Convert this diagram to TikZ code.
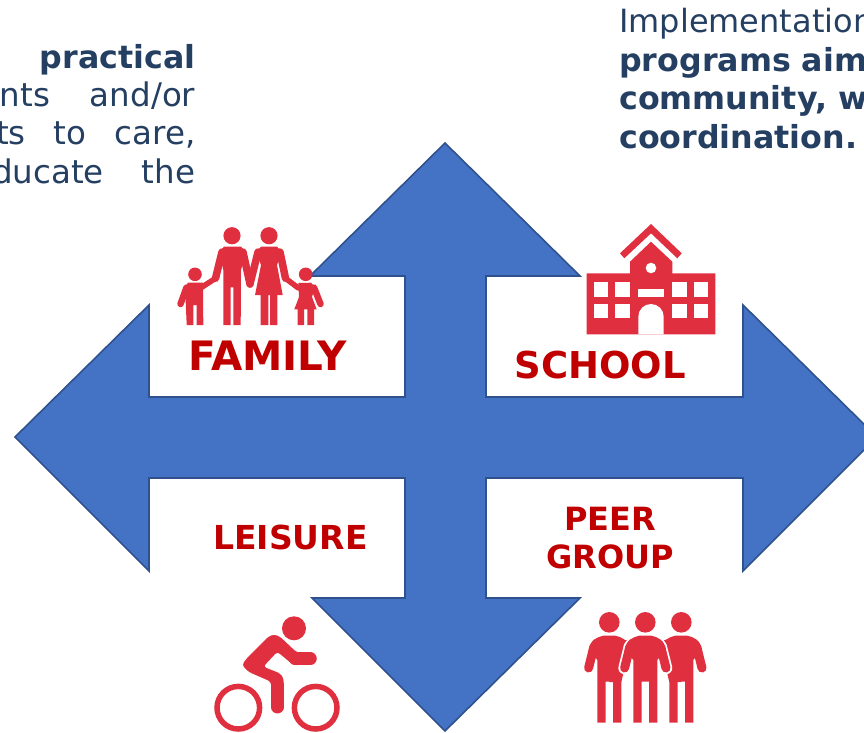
\documentclass[tikz,border=0pt]{standalone}
\usepackage{fontspec}
\setmainfont{DejaVu Sans}
\definecolor{txtblue}{HTML}{243F61}
\definecolor{arrowfill}{HTML}{4472C4}
\definecolor{arrowline}{HTML}{2F528F}
\definecolor{iconred}{HTML}{E03040}
\definecolor{labelred}{HTML}{C00000}
\newcommand\PersonShape[1]{%
  \path[#1,line join=miter] (-20,650) .. controls (-20,640) and (-12,637) .. (-6,635.7) -- (6,635.7) .. controls (12,637) and (20,640) .. (20,650) -- (12,660) -- (12,722.7) -- (3.7,722.7) -- (3.7,681.7) -- (-3.7,681.7) -- (-3.7,722.7) -- (-12,722.7) -- (-12,660) -- cycle;
}
\tikzset{
  x=1pt,y=-1pt,
  para/.style={anchor=base east,inner sep=0pt,text=txtblue,font=\fontsize{32.5}{38}\selectfont},
  parab/.style={anchor=base east,inner sep=0pt,text=txtblue,font=\bfseries\fontsize{31.7}{38}\selectfont},
  parar/.style={anchor=base west,inner sep=0pt,text=txtblue,font=\fontsize{32}{38}\selectfont},
  parabr/.style={anchor=base west,inner sep=0pt,text=txtblue,font=\bfseries\fontsize{31.7}{38}\selectfont},
  lab/.style={text=labelred,inner sep=0pt,anchor=base,font=\bfseries\fontsize{#1}{#1}\selectfont},
  cross/.style={fill=arrowfill,draw=arrowline,line width=1.6pt,line join=miter},
  icon/.style={fill=iconred},
  limb/.style={draw=iconred,line cap=round,line join=round,line width=#1},
  hole/.style={fill=white}
}
\begin{document}
\begin{tikzpicture}
\useasboundingbox (0,0) rectangle (864,732);
\clip (0,0) rectangle (864,732);
% four-headed arrow
\draw[cross] (445,143) -- (580,276) -- (486,276) -- (486,397) -- (743,397) -- (743,305) -- (877,437) -- (743,571) -- (743,478) -- (486,478) -- (486,598) -- (580,598) -- (445,731) -- (312,598) -- (405,598) -- (405,478) -- (149,478) -- (149,571) -- (15,437) -- (149,305) -- (149,397) -- (405,397) -- (405,276) -- (310,276) -- cycle;
% left text
\node[parab] (l1) at (195.5,68) {practical};
\node[para] (l2) at (195.5,106) {nts\hspace{40pt}and/or};
\node[para] (l3) at (195.5,144.5) {ts\hspace{28pt}to\hspace{28pt}care,};
\node[para] (l4) at (195.5,183) {ducate\hspace{38pt}the};
% right text
\node[parar] (r1) at (619,32) {Implementation};
\node[parabr] (r2) at (619,71) {programs aim};
\node[parabr] (r3) at (619,109) {community, w};
\node[parabr] (r4) at (619,148) {coordination.};
% labels
\node[lab=40.5] (family) at (267.5,370) {FAMILY};
\node[lab=37] (school) at (600,378) {SCHOOL};
\node[lab=33] (leisure) at (290.5,549) {LEISURE};
\node[lab=32] (peer) at (610,530) {PEER};
\node[lab=32] (group) at (610,568) {GROUP};
% family icon
\fill[icon] (232,235.7) circle (8.6) (269,235.7) circle (8.6) (195,274.3) circle (6.8) (305.7,274.3) circle (6.8);
\fill[icon] (219,252) -- (224,246.7) -- (241,246.7) -- (246,252) -- (241,270) -- (240.7,325) -- (233.3,325) -- (233.3,287.3) -- (230.7,287.3) -- (230.7,325) -- (223.3,325) -- (223.3,270) -- cycle;
\draw[limb=7.5pt] (243,252) -- (250,284);
\draw[limb=7.5pt] (222,252) -- (215.5,278.3);
\draw[limb=5.5pt] (215.5,278.3) -- (201.7,287.3);
\fill[icon] (256,252) -- (261,246.7) -- (277,246.7) -- (282,252) -- (277,265) -- (282.7,295) -- (277.3,295) -- (277.3,325) -- (270,325) -- (270,295) -- (268.3,295) -- (268.3,325) -- (260.7,325) -- (260.7,295) -- (255,295) -- (261,265) -- cycle;
\draw[limb=7.5pt] (258,252) -- (250,284);
\draw[limb=7.5pt] (280,252) -- (285.5,278.3);
\draw[limb=5.5pt] (285.5,278.3) -- (298.3,288);
\fill[icon] (185,287) -- (188,282.7) -- (203,282.7) -- (203.3,325) -- (196.7,325) -- (196.7,305) -- (193.3,305) -- (193.3,325) -- (186.7,325) -- cycle;
\draw[limb=6.5pt] (186.5,287.5) -- (180.5,304);
\fill[icon] (298.3,283) -- (311,282.7) -- (315,287) -- (312,297) -- (316.7,309.3) -- (314,309.3) -- (314,325) -- (307.3,325) -- (307.3,309.3) -- (304,309.3) -- (304,325) -- (297.7,325) -- (297.7,309.3) -- (294.3,309.3) -- (299,297) -- cycle;
\draw[limb=6.5pt] (314,287.5) -- (320.5,304);
% school icon
\fill[icon] (620,253.3) -- (651,224) -- (681.7,253.3) -- (677.3,258.3) -- (651,233.3) -- (624.3,258.3) -- cycle;
\fill[icon] (586.7,273.3) -- (630,273.3) -- (630,261.7) -- (651,241.7) -- (672.3,261.7) -- (672.3,273.3) -- (715.3,273.3) -- (715.3,334.3) -- (586.7,334.3) -- cycle;
\fill[hole] (651,268) circle (5.3);
\foreach \wx in {593.7,615.3,672.3,694} \foreach \wy in {282.3,304}
  \fill[hole] (\wx,\wy) rectangle ++(14.3,14.3);
\fill[hole] (638.3,289.3) rectangle (663.7,296.7);
\fill[hole] (638.3,334.3) -- (638.3,316.7) arc[start angle=180,end angle=0,radius=12.7,y radius=-12.7] -- (663.7,334.3) -- cycle;
% cyclist icon
\fill[icon] (294,628.3) circle (12);
\draw[draw=iconred,line width=5.5pt] (238.3,707.7) circle (21.3) (315.7,707.7) circle (21.3);
\fill[icon,rounded corners=3pt] (268.3,636.7) -- (274,634.3) -- (280,636.7) -- (296.7,652.4) -- (300,652.4) -- (300,665) -- (293.3,665) -- (277.3,651.7) -- (263.3,666.7) -- (280,673.3) -- (283.6,678.3) -- (283.6,695) -- (271,695) -- (271,681.7) -- (248.3,671.7) -- (242,665) -- (246.7,658.3) -- cycle;
\draw[limb=12.5pt] (295,658.7) -- (310.5,658.7);
\draw[limb=12.3pt] (277.4,685) -- (277.4,707.3);
% people icon
\foreach \px/\sgn in {609.3/1,681.3/-1}{
  \begin{scope}[shift={(\px,0)}]
    \fill[icon] (0,622.3) circle (10.3);
    \PersonShape{fill=iconred}
    \fill[icon] (0,640) -- ({\sgn*22},640) -- ({\sgn*12},682) -- (0,682) -- cycle;
    \draw[limb=9pt] ({-\sgn*15.5},647) -- ({-\sgn*20.7},668);
  \end{scope}
}
\begin{scope}[shift={(645.3,0)}]
  \PersonShape{draw=white,fill=white,line width=3.5pt}
  \draw[draw=white,line cap=round,line width=12.5pt] (-15.5,647) -- (-20.7,668);
  \draw[draw=white,line cap=round,line width=12.5pt] (15.5,647) -- (20.7,668);
  \fill[icon] (0,622.3) circle (10.3);
  \fill[white] (-14,660) rectangle (14,724);
  \PersonShape{fill=iconred}
  \draw[limb=9pt] (-15.5,647) -- (-20.7,668);
  \draw[limb=9pt] (15.5,647) -- (20.7,668);
\end{scope}
\end{tikzpicture}
\end{document}
